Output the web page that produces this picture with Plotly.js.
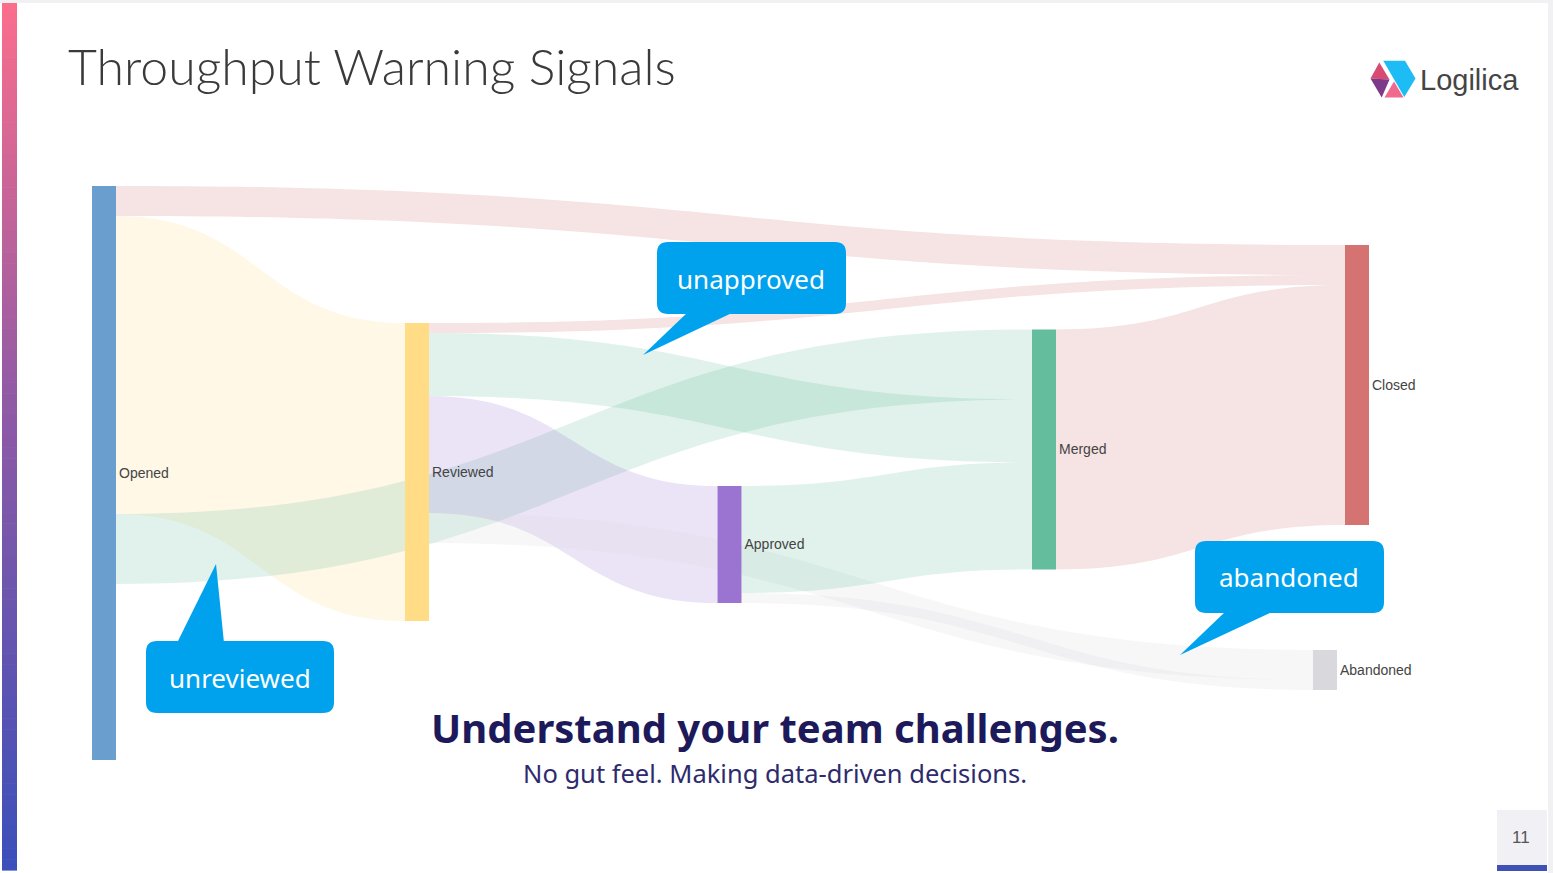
<!DOCTYPE html>
<html><head><meta charset="utf-8">
<script src="https://cdn.plot.ly/plotly-3.0.1.min.js"></script>
<style>html,body{margin:0;padding:0;background:#fff;overflow:hidden}#chart{width:1553px;height:873px}</style>
</head><body><div id="chart"></div>
<script>
// ---- data ----
const nodeLabels = ['Opened', 'Reviewed', 'Approved', 'Merged', 'Closed', 'Abandoned', '', ''];
const linkSource = [0, 0, 0, 0, 1, 1, 1, 1, 1, 2, 2, 3];
const linkTarget = [4, 1, 3, 6, 4, 3, 2, 5, 7, 3, 5, 4];
const linkValues = [30, 298, 70, 176, 10, 63, 117, 30, 78, 107, 10, 240];
const calloutTexts = ['unapproved', 'unreviewed', 'abandoned'];
const titleText = 'Throughput Warning Signals';
const headline = 'Understand your team challenges.';
const subline = 'No gut feel. Making data-driven decisions.';
const pageNumber = '11';

// ---- styles / positions ----
const W = 1553, H = 873;
const nodeColors = ['#6a9ecf', '#ffdc85', '#9b74d1', '#64be9d', '#d47372', '#d9d9dd', 'rgba(0,0,0,0)', 'rgba(0,0,0,0)'];
const domTop = 186, domH = 604;
const nodeCx = [104, 417, 729.5, 1044, 1357, 1325, 780, 1545];
const nodeCy = [473, 472, 544.5, 449.5, 385, 670, 738, 750];
const nodeX = nodeCx.map(v => v / W);
const nodeY = nodeCy.map(v => (v - domTop) / domH);

function rgba(hex, a) {
  if (hex.startsWith('rgba')) return hex;
  const n = parseInt(hex.slice(1), 16);
  return `rgba(${n >> 16},${(n >> 8) & 255},${n & 255},${a})`;
}
const linkColors = linkTarget.map(t => rgba(nodeColors[t], t === 5 ? 0.22 : 0.2));

const px = x => x / W, py = y => 1 - y / H;
const P = (x, y) => `${px(x)},${py(y)}`;
function roundRect(x0, y0, x1, y1, r) {
  return `M ${P(x0 + r, y0)} L ${P(x1 - r, y0)} Q ${P(x1, y0)} ${P(x1, y0 + r)} L ${P(x1, y1 - r)} Q ${P(x1, y1)} ${P(x1 - r, y1)} L ${P(x0 + r, y1)} Q ${P(x0, y1)} ${P(x0, y1 - r)} L ${P(x0, y0 + r)} Q ${P(x0, y0)} ${P(x0 + r, y0)} Z`;
}
function poly(pts) { return 'M ' + pts.map(p => P(p[0], p[1])).join(' L ') + ' Z'; }
const pathShape = (path, color) => ({type: 'path', xref: 'paper', yref: 'paper', path, fillcolor: color, line: {width: 0}, layer: 'above'});
const rectShape = (x0, y0, x1, y1, color, layer) => ({type: 'rect', xref: 'paper', yref: 'paper', x0: px(x0), x1: px(x1), y0: py(y1), y1: py(y0), fillcolor: color, line: {width: 0}, layer: layer || 'above'});

const shapes = [];
// frame
shapes.push(rectShape(0, 0, W, 3, '#f1f1f3', 'below'));
shapes.push(rectShape(1548, 0, W, H, '#f1f1f3', 'below'));
// left gradient bar
const stops = [[0, [251, 110, 140]], [0.45, [146, 90, 165]], [1, [58, 80, 186]]];
function grad(t) {
  for (let i = 0; i < stops.length - 1; i++) {
    const [t0, c0] = stops[i], [t1, c1] = stops[i + 1];
    if (t <= t1) { const f = (t - t0) / (t1 - t0); return `rgb(${c0.map((c, k) => Math.round(c + (c1[k] - c) * f)).join(',')})`; }
  }
}
const N = 80, by0 = 3, by1 = 870;
for (let i = 0; i < N; i++) {
  const a = by0 + (by1 - by0) * i / N, b = by0 + (by1 - by0) * (i + 1) / N + 0.6;
  shapes.push(rectShape(2, a, 17, b, grad((i + 0.5) / N), 'below'));
}
// callouts
const blue = '#00a2ee';
const callouts = [
  {box: [657, 242, 846, 314], tail: [[688, 312], [734, 312], [643, 355]], cx: 751, cy: 279},
  {box: [146, 641, 334, 713], tail: [[177, 643], [224, 643], [216, 564]], cx: 240, cy: 678},
  {box: [1195, 541, 1384, 613], tail: [[1226, 611], [1274, 611], [1180, 655]], cx: 1289, cy: 577}
];
callouts.forEach(c => {
  shapes.push(pathShape(roundRect(c.box[0], c.box[1], c.box[2], c.box[3], 11), blue));
  shapes.push(pathShape(poly(c.tail), blue));
});
// logo
shapes.push(pathShape(poly([[1383.3, 60.7], [1405, 60.7], [1415.5, 78.5], [1404.3, 97]]), '#1dbcf4'));
shapes.push(pathShape(poly([[1384.5, 97.5], [1403.5, 97.5], [1394, 81.5]]), '#f06a8e'));
shapes.push(pathShape(poly([[1370.5, 78.5], [1379.3, 62.5], [1389.5, 79.5]]), '#d84a72'));
shapes.push(pathShape(poly([[1370.5, 78.5], [1389.5, 79.5], [1381.7, 97.5]]), '#7c3a88'));
// page number
shapes.push(rectShape(1497, 810, 1547, 866, '#f1f0f4'));
shapes.push(rectShape(1497, 865, 1547, 871, '#3f51b5'));

const ann = (text, x, y, size, color, opts) => Object.assign({
  text, x: px(x), y: py(y), xref: 'paper', yref: 'paper', showarrow: false,
  xanchor: 'center', yanchor: 'middle', font: {size, color, family: 'Noto Sans, sans-serif'}
}, opts || {});

const annotations = [
  ann(titleText, 66, 66, 50, '#3a3a3a', {xanchor: 'left', font: {size: 50, color: '#3a3a3a', family: 'Lato, sans-serif', weight: 300}}),
  ann('Logilica', 1418, 80, 29, '#454545', {xanchor: 'left', font: {size: 29, color: '#454545', family: 'Liberation Sans, Arial, sans-serif'}}),
  ann(headline, 775, 727, 40, '#1d1a5b', {font: {size: 40, color: '#1d1a5b', family: 'Noto Sans, sans-serif', weight: 700}}),
  ann(subline, 775, 773, 25.5, '#2e2b6d'),
  ann(pageNumber, 1521, 837, 17, '#555', {font: {size: 17, color: '#555', family: 'Liberation Sans, Arial, sans-serif'}})
];
callouts.forEach((c, i) => annotations.push(ann(calloutTexts[i], c.cx, c.cy, 26, '#ffffff')));

const trace = {
  type: 'sankey', arrangement: 'fixed',
  domain: {x: [0, 1], y: [1 - (domTop + domH) / H, 1 - domTop / H]},
  node: {label: nodeLabels, color: nodeColors, thickness: 24, pad: 10, line: {width: 0}, x: nodeX, y: nodeY, hoverinfo: 'none'},
  link: {source: linkSource, target: linkTarget, value: linkValues, color: linkColors, hoverinfo: 'none'},
  textfont: {family: 'Liberation Sans, Arial, sans-serif', size: 14, color: '#444', shadow: 'none'}
};

const layout = {
  width: W, height: H, margin: {l: 0, r: 0, t: 0, b: 0},
  paper_bgcolor: '#ffffff', shapes, annotations, showlegend: false
};
Plotly.newPlot('chart', [trace], layout, {displayModeBar: false, staticPlot: true});
</script>
</body></html>
